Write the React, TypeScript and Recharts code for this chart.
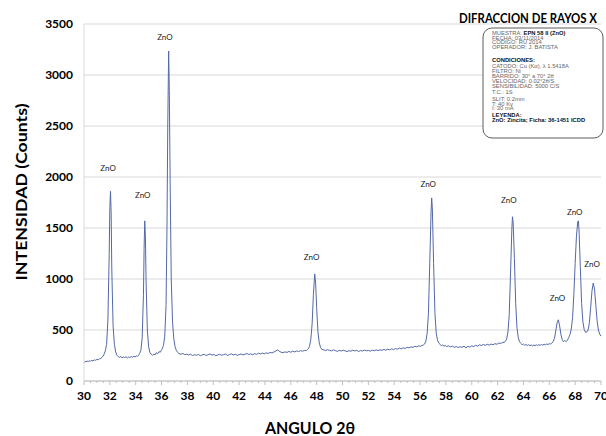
import { LineChart, Line, XAxis, YAxis, CartesianGrid, ReferenceDot } from 'recharts'

// patron de difraccion: [angulo 2θ, intensidad]
const patron: [number, number][] = [
  [30.0, 180], [30.08, 192], [30.16, 188], [30.24, 196], [30.32, 190], [30.4, 198], [30.5, 194], [30.6, 202],
  [30.7, 198], [30.8, 207], [30.9, 203], [31.0, 212], [31.1, 208], [31.2, 218], [31.3, 222], [31.4, 232], [31.48, 245],
  [31.55, 262], [31.65, 295], [31.75, 360], [31.85, 600], [31.95, 1250], [32.0, 1700], [32.05, 1860], [32.1, 1650],
  [32.15, 1100], [32.25, 540], [32.35, 360], [32.45, 285], [32.55, 252],
  [32.65, 238], [32.75, 232], [32.85, 240], [32.95, 228], [33.05, 236], [33.15, 230], [33.25, 238], [33.35, 226],
  [33.45, 235], [33.55, 230], [33.65, 240], [33.75, 233], [33.85, 242], [33.95, 236], [34.05, 246], [34.15, 242], [34.22, 252],
  [34.3, 268], [34.4, 300], [34.5, 420], [34.6, 850], [34.65, 1300], [34.7, 1570], [34.75, 1420], [34.8, 1000],
  [34.9, 500], [35.0, 335], [35.1, 280], [35.2, 262], [35.3, 252],
  [35.4, 262], [35.5, 256], [35.6, 278], [35.7, 268], [35.8, 288], [35.9, 282], [35.98, 300],
  [36.05, 315], [36.15, 350], [36.25, 440], [36.35, 750], [36.42, 1500], [36.48, 2500], [36.55, 3235], [36.6, 2850],
  [36.67, 1900], [36.75, 1000], [36.85, 580], [36.95, 410], [37.05, 335], [37.15, 298], [37.25, 280],
  [37.35, 268], [37.5, 262], [37.65, 270], [37.8, 258], [37.95, 264], [38.1, 255], [38.25, 262], [38.4, 250],
  [38.55, 258], [38.7, 252], [38.85, 260], [39.0, 248], [39.15, 256], [39.3, 262], [39.45, 250], [39.6, 258],
  [39.75, 265], [39.9, 254], [40.05, 260], [40.2, 248], [40.35, 256], [40.5, 262], [40.65, 252], [40.8, 258],
  [40.95, 264], [41.1, 250], [41.25, 258], [41.4, 266], [41.55, 255], [41.7, 262], [41.85, 252], [42.0, 258],
  [42.15, 265], [42.3, 256], [42.45, 262], [42.6, 270], [42.75, 260], [42.9, 266], [43.05, 258], [43.2, 268],
  [43.35, 262], [43.5, 272], [43.65, 265], [43.8, 274], [43.95, 266], [44.1, 276], [44.25, 270], [44.4, 280],
  [44.55, 275], [44.7, 285], [44.85, 295], [45.0, 305], [45.1, 292], [45.25, 282], [45.4, 278], [45.55, 286],
  [45.7, 280], [45.85, 290], [46.0, 282], [46.15, 292], [46.3, 285], [46.45, 295], [46.6, 288], [46.75, 298],
  [46.9, 292], [47.05, 300], [47.2, 298], [47.28, 308],
  [47.35, 315], [47.45, 340], [47.55, 410], [47.65, 560], [47.75, 850], [47.85, 1050], [47.92, 960], [48.0, 720],
  [48.1, 480], [48.2, 375], [48.3, 330], [48.4, 310],
  [48.55, 305], [48.7, 298], [48.85, 308], [49.0, 300], [49.15, 295], [49.3, 305], [49.45, 298], [49.6, 290],
  [49.75, 300], [49.9, 294], [50.05, 302], [50.2, 296], [50.35, 288], [50.5, 298], [50.65, 292], [50.8, 302],
  [50.95, 295], [51.1, 300], [51.25, 290], [51.4, 298], [51.55, 294], [51.7, 303], [51.85, 296], [52.0, 300],
  [52.15, 292], [52.3, 302], [52.45, 296], [52.6, 305], [52.75, 298], [52.9, 306], [53.05, 300], [53.2, 310],
  [53.35, 302], [53.5, 312], [53.65, 305], [53.8, 315], [53.95, 308], [54.1, 318], [54.25, 312], [54.4, 322],
  [54.55, 315], [54.7, 325], [54.85, 320], [55.0, 330], [55.15, 325], [55.3, 335], [55.45, 330], [55.6, 340],
  [55.75, 335], [55.9, 345], [56.05, 340], [56.15, 350], [56.25, 352],
  [56.35, 362], [56.45, 390], [56.55, 470], [56.65, 660], [56.75, 1150], [56.85, 1650], [56.9, 1795], [56.95, 1700],
  [57.05, 1150], [57.15, 670], [57.25, 470], [57.35, 400], [57.45, 372],
  [57.55, 360], [57.65, 345], [57.75, 355], [57.85, 340], [57.95, 350], [58.05, 338], [58.2, 345], [58.35, 335],
  [58.5, 342], [58.65, 330], [58.8, 338], [58.95, 328], [59.1, 336], [59.25, 330], [59.4, 342], [59.55, 325],
  [59.7, 340], [59.85, 332], [60.0, 345], [60.15, 338], [60.3, 350], [60.45, 342], [60.6, 355], [60.75, 348],
  [60.9, 358], [61.05, 350], [61.2, 360], [61.35, 352], [61.5, 362], [61.65, 356], [61.8, 366], [61.95, 360],
  [62.1, 372], [62.25, 368], [62.4, 380], [62.5, 378],
  [62.6, 388], [62.7, 412], [62.8, 480], [62.9, 650], [63.0, 1050], [63.1, 1480], [63.15, 1610], [63.2, 1560],
  [63.3, 1200], [63.4, 760], [63.5, 520], [63.6, 425], [63.7, 385],
  [63.8, 368], [63.9, 356], [64.0, 362], [64.1, 350], [64.2, 358], [64.3, 348], [64.4, 356], [64.5, 346],
  [64.6, 354], [64.7, 345], [64.8, 352], [64.9, 347], [65.0, 355], [65.1, 348], [65.2, 356], [65.3, 350],
  [65.4, 358], [65.5, 352], [65.6, 360], [65.7, 355], [65.8, 362], [65.9, 358], [66.0, 366], [66.1, 362], [66.2, 372],
  [66.3, 385], [66.4, 420], [66.5, 490], [66.6, 570], [66.7, 600], [66.8, 540], [66.9, 455], [67.0, 405],
  [67.1, 385], [67.2, 398], [67.3, 385], [67.4, 400], [67.5, 425],
  [67.6, 455], [67.7, 510], [67.8, 620], [67.9, 850], [68.0, 1150], [68.1, 1420], [68.2, 1560], [68.25, 1570],
  [68.3, 1480], [68.4, 1120], [68.5, 760], [68.6, 580], [68.7, 505], [68.8, 478], [68.9, 480],
  [69.0, 500], [69.1, 570], [69.2, 720], [69.3, 880], [69.4, 960], [69.5, 900], [69.6, 740], [69.7, 590],
  [69.8, 500], [69.9, 460], [70.0, 440],
]

// etiquetas de fase (centro del texto, en unidades de datos)
const picos = [
  { angulo: 31.86, intensidad: 2085, fase: 'ZnO' },
  { angulo: 34.54, intensidad: 1824, fase: 'ZnO' },
  { angulo: 36.26, intensidad: 3370, fase: 'ZnO' },
  { angulo: 47.61, intensidad: 1213, fase: 'ZnO' },
  { angulo: 56.63, intensidad: 1931, fase: 'ZnO' },
  { angulo: 62.87, intensidad: 1775, fase: 'ZnO' },
  { angulo: 66.63, intensidad: 811, fase: 'ZnO' },
  { angulo: 67.97, intensidad: 1660, fase: 'ZnO' },
  { angulo: 69.31, intensidad: 1144, fase: 'ZnO' },
]

const yTicks = [0, 500, 1000, 1500, 2000, 2500, 3000, 3500]
const xMayores = [30, 32, 34, 36, 38, 40, 42, 44, 46, 48, 50, 52, 54, 56, 58, 60, 62, 64, 66, 68, 70]
const xTicks = Array.from({ length: 81 }, (_, i) => 30 + i * 0.5)

const condiciones: { texto: string; negrita?: string; bold?: boolean; gap?: number }[] = [
  { texto: 'MUESTRA: ', negrita: 'EPN 58 II (ZnO)' },
  { texto: 'FECHA: 03/11/2014', gap: 4.7 },
  { texto: 'CODIGO:  RU 2014', gap: 4.7 },
  { texto: 'OPERADOR: J. BATISTA', gap: 4.7 },
  { texto: 'CONDICIONES:', bold: true, gap: 13 },
  { texto: 'CATODO: Cu (Kα), λ 1.5418A', gap: 5.6 },
  { texto: 'FILTRO: Ni' },
  { texto: 'BARRIDO: 30° a 70° 2θ' },
  { texto: 'VELOCIDAD: 0.02°2θ/S' },
  { texto: 'SENSIBILIDAD: 5000 C/S' },
  { texto: 'T.C.: 1S', gap: 5.6 },
  { texto: 'SLIT: 0.2mm', gap: 7 },
  { texto: 'T: 40 Kv', gap: 4.8 },
  { texto: 'I: 30 mA', gap: 4.6 },
  { texto: 'LEYENDA:', bold: true, gap: 6.5 },
  { texto: 'ZnO: Zincita; Ficha: 36-1451 ICDD', bold: true, gap: 5.8 },
]

const data = patron.map(([angulo, intensidad]) => ({ angulo, intensidad }))
const FONT = 'Lato, "Open Sans", sans-serif'

const TickX = (props: any) => {
  const { x, y, payload } = props
  const v = payload.value
  const mayor = xMayores.includes(v)
  return (
    <g>
      <line x1={x} x2={x} y1={y} y2={y + (mayor ? 4 : 2)} stroke="#bfbfbf" />
      {mayor && (
        <text x={x} y={y + 19} textAnchor="middle" fontFamily={FONT} fontWeight="bold" fontSize={12} fill="#000">
          {v}
        </text>
      )}
    </g>
  )
}

export default function App() {
  let yy = 33
  return (
    <div style={{ position: 'absolute', left: 0, top: 0, width: 606, height: 436, background: '#fff' }}>
      <LineChart width={606} height={436} data={data} margin={{ top: 24, right: 5, left: 0, bottom: 0 }}>
        <CartesianGrid vertical={false} stroke="#d9d9d9" />
        <XAxis
          dataKey="angulo"
          type="number"
          domain={[30, 70]}
          ticks={xTicks}
          interval={0}
          tick={<TickX />}
          tickLine={false}
          tickSize={0}
          tickMargin={0}
          axisLine={{ stroke: '#bfbfbf' }}
          height={55}
        />
        <YAxis
          type="number"
          domain={[0, 3500]}
          ticks={yTicks}
          width={84}
          tickLine={false}
          tickSize={0}
          tickMargin={11}
          axisLine={{ stroke: '#d9d9d9' }}
          tick={{ fill: '#000', fontSize: 12, fontWeight: 'bold', fontFamily: FONT }}
        />
        <Line
          type="linear"
          dataKey="intensidad"
          stroke="#5468a8"
          strokeWidth={1}
          dot={false}
          isAnimationActive={false}
        />
        {picos.map((p, i) => (
          <ReferenceDot
            key={i}
            x={p.angulo}
            y={p.intensidad}
            r={0}
            fill="none"
            stroke="none"
            label={{ value: p.fase, position: 'center', fontSize: 8, fill: '#222', fontFamily: FONT }}
          />
        ))}
      </LineChart>
      <svg width={606} height={436} style={{ position: 'absolute', left: 0, top: 0, pointerEvents: 'none' }}>
        <text
          transform="translate(20,192) rotate(-90)"
          textAnchor="middle"
          dominantBaseline="central"
          fontFamily={FONT}
          fontWeight="bold"
          fontSize={16}
          textLength={177}
          lengthAdjust="spacingAndGlyphs"
          fill="#000"
        >
          INTENSIDAD (Counts)
        </text>
        <text
          x={310}
          y={427}
          textAnchor="middle"
          dominantBaseline="central"
          fontFamily={FONT}
          fontWeight="bold"
          fontSize={17}
          textLength={90}
          lengthAdjust="spacingAndGlyphs"
          fill="#000"
        >
          ANGULO 2θ
        </text>
        <text
          x={597}
          y={18}
          textAnchor="end"
          dominantBaseline="central"
          fontFamily={FONT}
          fontWeight="bold"
          fontSize={12.5}
          textLength={138}
          lengthAdjust="spacingAndGlyphs"
          fill="#000"
        >
          DIFRACCION DE RAYOS X
        </text>
        <rect x={483} y={28} width={120} height={110} rx={9} fill="#fff" stroke="#333" strokeWidth={0.8} />
        {condiciones.map((c, i) => {
          yy += i === 0 ? 0 : c.gap ?? 5.1
          return (
            <text
              key={i}
              x={492}
              y={yy}
              fontFamily='"Liberation Sans", Arial, sans-serif'
              fontSize={5.8}
              fill={c.bold ? '#111' : '#666'}
              fontWeight={c.bold ? 'bold' : 'normal'}
              dominantBaseline="central"
            >
              {c.texto}
              {c.negrita && (
                <tspan fontWeight="bold" fill="#111">
                  {c.negrita}
                </tspan>
              )}
            </text>
          )
        })}
      </svg>
    </div>
  )
}
